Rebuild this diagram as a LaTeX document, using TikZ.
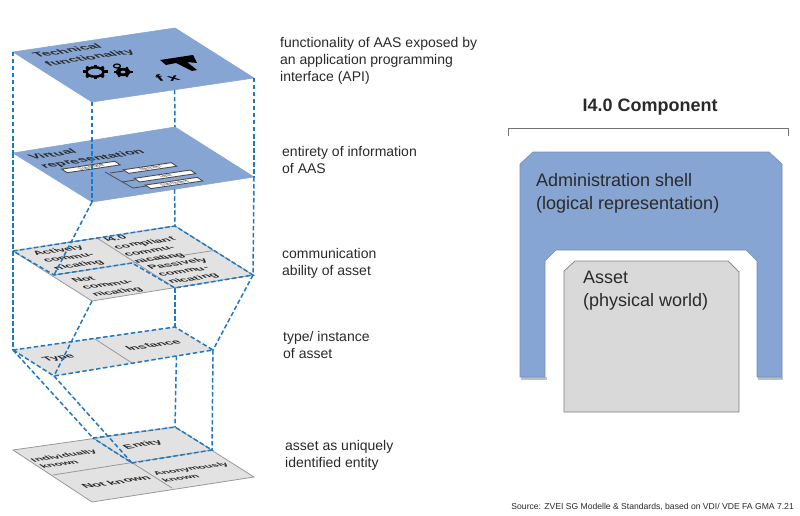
\documentclass[tikz,border=0pt]{standalone}
\usepackage{fontspec}
\setmainfont{Liberation Sans}
\usetikzlibrary{calc}
\definecolor{shellblue}{HTML}{86A5D3}
\definecolor{shelledge}{HTML}{6F90C0}
\definecolor{plategrey}{HTML}{E2E2E2}
\definecolor{dashblue}{HTML}{1F78C4}
\definecolor{inkgrey}{HTML}{2A2A2A}
\tikzset{
	bluepl/.style={fill=shellblue,draw=shellblue,line width=.6pt},
	greypl/.style={fill=plategrey,draw=black!40,line width=.8pt},
	cellline/.style={draw=black!40,line width=.8pt},
	dashline/.style={draw=dashblue,line width=1.5pt,dash pattern=on 4.5pt off 2.5pt},
	platetxt/.style n args={2}{cm={1,.148,-.6,.42,(0,0)},font=\bfseries\fontsize{#1}{#2}\selectfont,text=inkgrey,align=left,inner sep=0pt},
	note/.style={anchor=north west,align=left,font=\fontsize{14}{17.3}\selectfont,text=inkgrey,inner sep=0pt},
	blocktxt/.style={anchor=north west,align=left,font=\fontsize{18}{23}\selectfont,text=inkgrey,inner sep=0pt},
	minibox/.style={cm={1,.148,-.9,.6,(0,0)},draw=black!70,fill=white,line width=.9pt,minimum height=6pt,inner sep=0pt,font=\fontsize{5.5}{6}\selectfont,text=black!75}
}
\begin{document}
\begin{tikzpicture}[x=1pt,y=-1pt]
	\useasboundingbox (0,0) rectangle (800,516);
	\fill[white] (0,0) rectangle (800,516);

	% corners of the five plates
	\coordinate (ta) at (13,52);  \coordinate (tb) at (175,28);  \coordinate (tc) at (254,78);  \coordinate (td) at (92,102);
	\coordinate (va) at (13,153); \coordinate (vb) at (175,127); \coordinate (vc) at (254,177); \coordinate (vd) at (92,202);
	\coordinate (ca) at (13,251); \coordinate (cb) at (175,226); \coordinate (cc) at (253,275); \coordinate (cd) at (92,301);
	\coordinate (cl) at (54,275); \coordinate (cm) at (132,263); \coordinate (cr) at (175,288);
	\coordinate (cu) at (97,238); \coordinate (cv) at (214,250.5);
	\coordinate (ia) at (13,350); \coordinate (ib) at (175,327); \coordinate (ic) at (213,350); \coordinate (id) at (54,376);
	\coordinate (iu) at (95,339); \coordinate (iv) at (132,363);
	\coordinate (ea) at (13,450); \coordinate (eb) at (175,427); \coordinate (ec) at (254,477); \coordinate (ed) at (92,502);
	\coordinate (eu) at (93,438); \coordinate (ev) at (212,450); \coordinate (em) at (132,463);
	\coordinate (el) at (53,475); \coordinate (er) at (172,488);

	% bottom plate
	\draw[greypl] (ea) -- (eb) -- (ec) -- (ed) -- cycle;
	\draw[cellline] (eu) -- (er);
	\draw[cellline] (el) -- (ev);
	\node[platetxt={11.5}{15}] (eone) at (68,459) {Individually\\known};
	\node[platetxt={13}{15}] (etwo) at (116,482) {Not known};
	\node[platetxt={11}{15}] (ethree) at (195,472) {Anonymously\\known};
	\node[platetxt={13}{15}] (efour) at (143,445) {Entity};

	% type / instance plate
	\draw[fill=plategrey,draw=none] (ia) -- (ib) -- (ic) -- (id) -- cycle;
	\draw[cellline] (iu) -- (iv);
	\node[platetxt={13}{15}] (itype) at (59,358) {Type};
	\node[platetxt={13}{15}] (iinst) at (153,345) {Instance};

	% communication plate
	\draw[greypl] (ca) -- (cb) -- (cc) -- (cd) -- cycle;
	\draw[cellline] (cu) -- (cr);
	\draw[cellline] (cl) -- (cv);
	\node[platetxt={12.5}{17}] (cone) at (69,258) {Actively\\commu-\\nicating};
	\node[platetxt={12.5}{17}] (ctwo) at (150,247) {I4.0\\compliant\\commu-\\nicating};
	\node[platetxt={12.5}{17}] (cthree) at (108,285) {Not\\commu-\\nicating};
	\node[platetxt={12.5}{17}] (cfour) at (188,271) {Passively\\commu-\\nicating};

	% virtual representation plate
	\draw[bluepl] (va) -- (vb) -- (vc) -- (vd) -- cycle;
	\draw[black!70,line width=.8pt] (105,172) -- (133,188) -- (147,186);
	\draw[black!70,line width=.8pt] (110,173) -- (124,171);
	\draw[black!70,line width=.8pt] (122,182) -- (135,180);
	\node[minibox,minimum width=53pt] (vroot) at (91,167) {Submodel};
	\node[minibox,minimum width=48pt] (vbox) at (150,168) {Manifest};
	\node[minibox,minimum width=56pt] (vboy) at (165,176) {Data};
	\node[minibox,minimum width=52pt] (vboz) at (174,183) {Submodels};
	\node[platetxt={14.5}{20}] (vtxt) at (87,155) {Virtual\\representation};

	% technical functionality plate
	\draw[bluepl] (ta) -- (tb) -- (tc) -- (td) -- cycle;
	\node[platetxt={14.5}{20}] (ttxt) at (84,54) {Technical\\functionality};
	\node[platetxt={19}{20},text=black] (tfx) at (167,78) {\itshape f\,\raisebox{-3pt}{x}};
	% gears
	\begin{scope}[shift={(95,72)},yscale=.55]
		\draw[black,line width=2.4pt] (0,0) circle (8.5);
		\foreach \a in {0,45,...,315}
			\draw[black,line width=3pt] (\a:8) -- (\a:12.5);
	\end{scope}
	\begin{scope}[shift={(123,72)},yscale=.55]
		\fill[black] (0,0) circle (7.5);
		\fill[shellblue] (0,0) circle (2.5);
		\foreach \a in {0,60,...,300}
			\draw[black,line width=2.4pt] (\a:6) -- (\a:9.5);
	\end{scope}
	\draw[black,line width=1.2pt] (117,66) ellipse (3.5 and 2);
	% hammer
	\fill[black] (160,60) -- (193,55) -- (197,63) -- (187,62) -- (197,70) -- (192,71) -- (176,63) -- (166,65) -- cycle;

	% dashed outlines
	\draw[dashline] (ca) -- (cb) -- (cc) -- (cr) -- (cm) -- (cl) -- cycle;
	\draw[dashline] (ia) -- (ib) -- (ic) -- (id) -- cycle;
	\draw[dashline] (eu) -- (eb) -- (ev) -- (em) -- cycle;

	% dashed links between the plates
	\draw[dashline] (ta) -- (va);
	\draw[dashline] (td) -- (vd);
	\draw[dashline] (tc) -- (vc);
	\draw[dashline] ($(td)!.51!(tc)$) -- (vb);
	\draw[dashline] (va) -- (ca);
	\draw[dashline] (vd) -- (cl);
	\draw[dashline] (vc) -- (cc);
	\draw[dashline] ($(vd)!.51!(vc)$) -- (cb);
	\draw[dashline] (ca) -- (ia);
	\draw[dashline] (cd) -- (id);
	\draw[dashline] (cr) -- (ib);
	\draw[dashline] (cc) -- (ic);
	\draw[dashline] (ia) -- (eu);
	\draw[dashline] (id) -- (em);
	\draw[dashline] (ic) -- (ev);
	\draw[dashline] ($(id)!.77!(ic)$) -- (eb);

	% notes
	\node[note] (nfun) at (280,37) {functionality of AAS exposed by\\an application programming\\interface (API)};
	\node[note] (nent) at (282,146) {entirety of information\\of AAS};
	\node[note] (ncom) at (282,248) {communication\\ability of asset};
	\node[note] (ntyp) at (283,331) {type/ instance\\of asset};
	\node[note] (nass) at (285,440) {asset as uniquely\\identified entity};

	% I4.0 component
	\node[font=\bfseries\fontsize{18}{20}\selectfont,text=inkgrey] (ctitle) at (650,107) {I4.0 Component};
	\draw[black!55,line width=.8pt] (508,136) -- (508,128) -- (788,128) -- (788,136);

	\fill[black!25] (521,377) rectangle (547,379.5);
	\fill[black!25] (758,377) rectangle (783,379.5);
	\draw[fill=shellblue,draw=shelledge,line width=.6pt]
		(520,164) -- (533,152) -- (769,152) -- (782,164) -- (782,377) -- (757,377) -- (757,261)
		-- (746,250) -- (556,250) -- (545,261) -- (545,377) -- (520,377) -- cycle;
	\node[blocktxt] (nshell) at (536,173) {Administration shell\\(logical representation)};

	\draw[fill=black!15,draw=black!50,line width=.7pt]
		(564,271) -- (575,261) -- (728,261) -- (739,272) -- (739,412) -- (564,412) -- cycle;
	\node[blocktxt] (nasset) at (583,271) {Asset\\(physical world)};

	\node[anchor=east,font=\fontsize{8.6}{10}\selectfont,text=inkgrey,inner sep=0pt] (nsrc) at (794,507) {Source: ZVEI SG Modelle \& Standards, based on VDI/ VDE FA GMA 7.21};
\end{tikzpicture}
\end{document}
